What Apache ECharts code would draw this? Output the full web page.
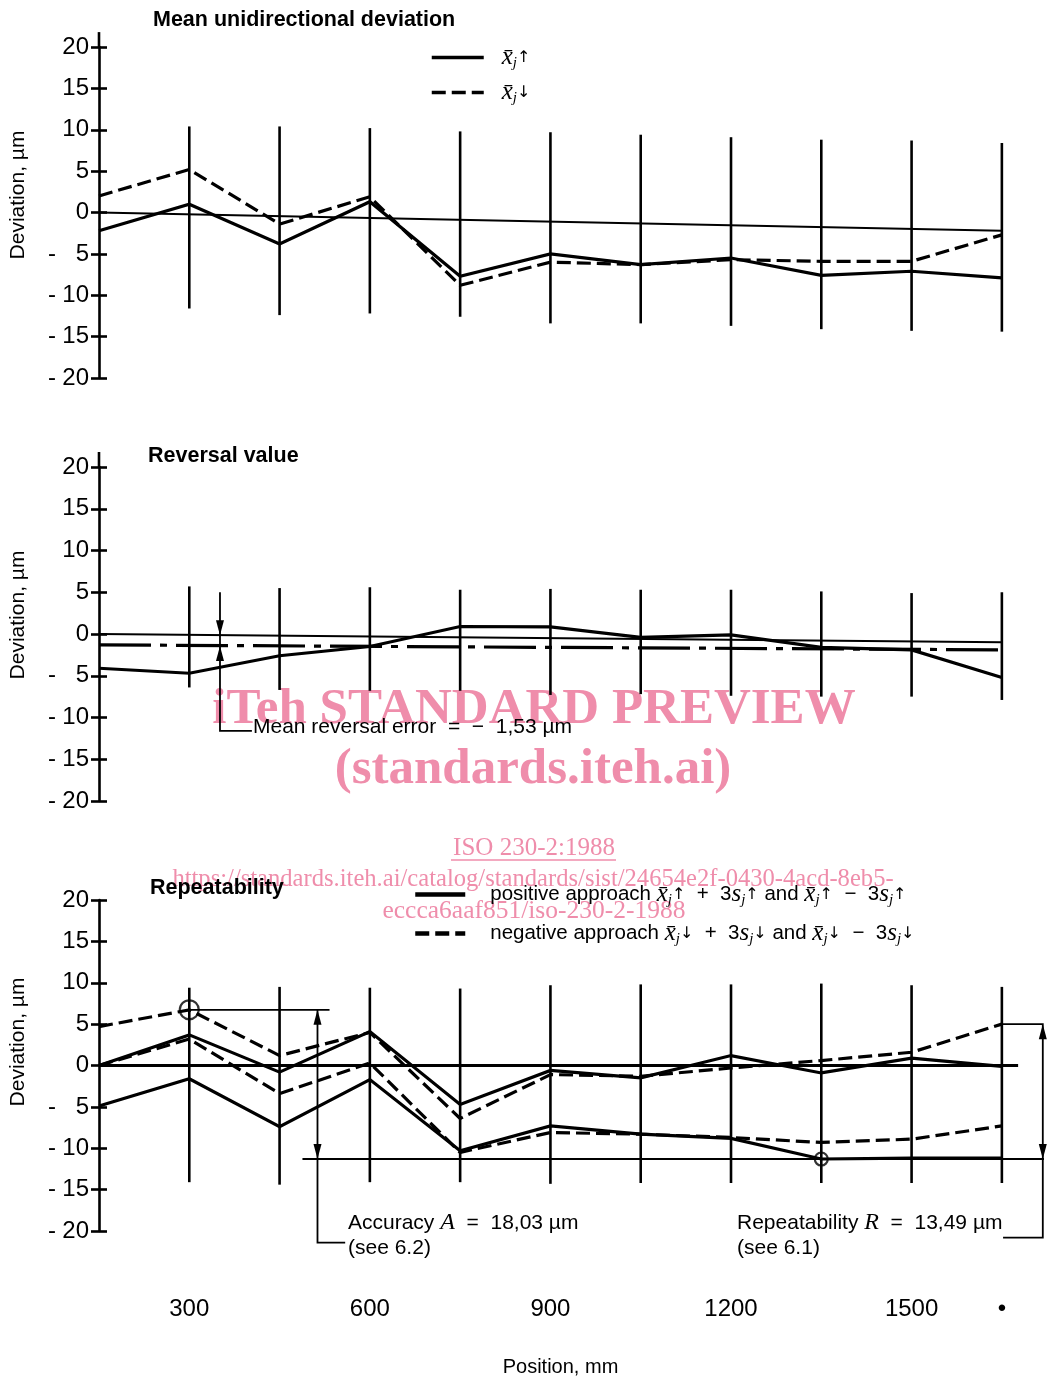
<!DOCTYPE html>
<html>
<head>
<meta charset="utf-8">
<script src="https://cdn.jsdelivr.net/npm/echarts@6/dist/echarts.min.js"></script>
<style>
  html, body { margin: 0; padding: 0; background: #fff; }
  #chart { width: 1047px; height: 1380px; }
</style>
</head>
<body>
<div id="chart"></div>
<script>
// measurement positions, mm
const positions = [150, 300, 450, 600, 750, 900, 1050, 1200, 1350, 1500, 1650];
const barPositions = [300, 450, 600, 750, 900, 1050, 1200, 1350, 1500, 1650];
const xLabelPositions = [300, 600, 900, 1200, 1500];

// panel 1 - mean unidirectional deviation
const meanUp = [-2.2, 1.0, -3.8, 1.3, -7.7, -5.0, -6.3, -5.5, -7.6, -7.1, -7.9];
const meanDown = [2.0, 5.2, -1.4, 1.9, -8.8, -6.0, -6.3, -5.7, -5.9, -5.9, -2.7];
const meanRefEnds = [0, -2.2];
const meanBarTop = [10.4, 10.4, 10.2, 9.8, 9.7, 9.4, 9.1, 8.8, 8.7, 8.4];
const meanBarBottom = [-11.6, -12.4, -12.2, -12.6, -13.4, -13.4, -13.7, -14.1, -14.3, -14.4];

// panel 2 - reversal value
const reversal = [-4.1, -4.7, -2.6, -1.5, 0.9, 0.85, -0.4, -0.1, -1.6, -1.9, -5.2];
const reversalMeanEnds = [-1.3, -1.9];
const reversalRefEnds = [0, -1.0];
const revBarTop = [5.7, 5.5, 5.6, 5.3, 5.4, 5.3, 5.3, 5.1, 4.9, 5.0];
const revBarBottom = [-6.4, -6.7, -6.8, -6.8, -7.3, -7.2, -7.4, -7.5, -7.5, -7.9];

// panel 3 - repeatability
const posUpper = [0, 3.7, -0.8, 4.1, -4.7, -0.6, -1.5, 1.2, -0.9, 0.9, -0.1];
const posLower = [-4.9, -1.6, -7.4, -1.7, -10.3, -7.3, -8.3, -8.8, -11.3, -11.2, -11.2];
const negUpper = [4.7, 6.73, 1.2, 4.0, -6.4, -1.1, -1.3, -0.3, 0.6, 1.6, 5.0];
const negLower = [0, 3.2, -3.4, 0.3, -10.5, -8.1, -8.3, -8.7, -9.3, -8.9, -7.3];
const repBarTop = [9.4, 9.5, 9.4, 9.3, 9.7, 9.8, 9.8, 9.9, 9.7, 9.5];
const repBarBottom = [-14.1, -14.4, -14.1, -14.1, -14.3, -14.2, -14.2, -14.2, -14.2, -14.2];
const maxDev = 6.73;   // A = 6,73 - (-11,30) = 18,03
const minDev = -11.3;

// annotation geometry (data units)
const axisStubs = [[[150, 20], [150, 21.8]]];
const revLeader = [[351, 5.0], [351, -11.6], [404, -11.6]];
const revArrows = [[351, -0.15, -1], [351, -1.45, 1]];
const repLines = [
  [[150, 0], [1677, 0]],
];
const repThinLines = [
  [[300, maxDev], [533, maxDev]],
  [[488, minDev], [1720, minDev]],
  [[513, maxDev], [513, -21.4], [559, -21.4]],
  [[1650, 5.0], [1718, 5.0], [1718, -20.8], [1652, -20.8]],
];
const repArrows = [[513, maxDev, 1], [513, minDev, -1], [1718, 5.0, 1], [1718, minDev, -1]];
const repCircles = [[300, maxDev, 19], [1350, minDev, 13]];

const chart = echarts.init(document.getElementById('chart'));

const SANS = "'Liberation Sans', Arial, sans-serif";
const SERIF = "'Liberation Serif', 'Times New Roman', serif";
const PINK = '#ef8dab';

function lineSeries(name, g, values, type, width) {
  return {
    name, type: 'line', xAxisIndex: g, yAxisIndex: g * 2,
    data: positions.map((p, i) => [p, values[i]]),
    symbol: 'none', silent: true, z: 4,
    lineStyle: { color: '#000', width: width || 3, type: type || 'solid', cap: 'butt', join: 'miter' },
    itemStyle: { color: '#000' }
  };
}

function endsSeries(g, ends, type, width) {
  return {
    type: 'line', xAxisIndex: g, yAxisIndex: g * 2, silent: true, symbol: 'none', z: 3,
    data: [[positions[0], ends[0]], [positions[positions.length - 1], ends[1]]],
    lineStyle: { color: '#000', width: width, type: type || 'solid' }
  };
}

function barsSeries(g, top, bottom) {
  return {
    type: 'custom', xAxisIndex: g, yAxisIndex: g * 2, silent: true, z: 3,
    data: barPositions.map((p, i) => [p, top[i], bottom[i]]),
    renderItem: (params, api) => {
      const a = api.coord([api.value(0), api.value(1)]);
      const b = api.coord([api.value(0), api.value(2)]);
      return { type: 'line', shape: { x1: a[0], y1: a[1], x2: b[0], y2: b[1] },
        style: { stroke: '#000', lineWidth: 2.6 } };
    }
  };
}

function polySeries(g, lines, width) {
  return {
    type: 'custom', xAxisIndex: g, yAxisIndex: g * 2, silent: true, z: 3, clip: false,
    data: lines.map(l => l[0]),
    renderItem: (params, api) => {
      const pts = lines[params.dataIndex].map(p => api.coord(p));
      return { type: 'polyline', shape: { points: pts },
        style: { stroke: '#000', lineWidth: width, fill: null } };
    }
  };
}

function arrowSeries(g, arrows) {
  return {
    type: 'custom', xAxisIndex: g, yAxisIndex: g * 2, silent: true, z: 5, clip: false,
    data: arrows,
    renderItem: (params, api) => {
      const t = api.coord([api.value(0), api.value(1)]);
      const d = api.value(2);   // 1 points up, -1 points down
      const h = 15 * d;
      return { type: 'polygon', shape: { points: [[t[0], t[1]], [t[0] - 4, t[1] + h], [t[0] + 4, t[1] + h]] },
        style: { fill: '#000' } };
    }
  };
}

const grids = [
  { left: 99, width: 945, top: 47, height: 331 },
  { left: 99, width: 945, top: 467, height: 334 },
  { left: 99, width: 945, top: 900, height: 331 }
];

const yLabel = {
  fontFamily: SANS, fontSize: 24, color: '#000', margin: 10,
  formatter: v => v < 0 ? '{m|-}{n|' + (-v) + '}' : '{n|' + v + '}',
  rich: {
    n: { fontFamily: SANS, fontSize: 24, width: 27, align: 'right', color: '#000' },
    m: { fontFamily: SANS, fontSize: 24, width: 14, align: 'left', color: '#000' }
  }
};

const yAxes = [];
grids.forEach((g, i) => {
  yAxes.push({
    type: 'value', gridIndex: i, min: -20, max: 20, interval: 5,
    axisLine: { show: true, lineStyle: { color: '#000', width: 2.6 } },
    axisTick: { show: true, length: 8, lineStyle: { color: '#000', width: 2.6 } },
    axisLabel: yLabel, splitLine: { show: false }
  });
  yAxes.push({
    type: 'value', gridIndex: i, min: -20, max: 20, interval: 5, position: 'left',
    axisLine: { show: false },
    axisTick: { show: true, inside: true, length: 8, lineStyle: { color: '#000', width: 2.6 } },
    axisLabel: { show: false }, splitLine: { show: false }
  });
});

const xAxes = grids.map((g, i) => ({
  type: 'value', gridIndex: i, min: 150, max: 1720, interval: 150,
  show: i === 2,
  axisLine: { show: false }, axisTick: { show: false }, splitLine: { show: false },
  axisLabel: {
    margin: 66, fontFamily: SANS, fontSize: 24, color: '#000',
    formatter: v => xLabelPositions.indexOf(v) >= 0 ? String(v) : (v === 1650 ? '•' : '')
  },
  name: 'Position, mm', nameLocation: 'middle', nameGap: 126,
  nameTextStyle: { fontFamily: SANS, fontSize: 20, color: '#000', padding: [0, 22, 0, 0] }
}));

const mathRich = {
  t: { fontFamily: SANS, fontSize: 20.5, color: '#000' },
  x: { fontFamily: SERIF, fontStyle: 'italic', fontSize: 25, color: '#000' },
  s: { fontFamily: SERIF, fontStyle: 'italic', fontSize: 25, color: '#000' },
  j: { fontFamily: SERIF, fontStyle: 'italic', fontSize: 15, color: '#000', padding: [12, 0, 0, 0] },
  a: { fontFamily: "'DejaVu Sans', sans-serif", fontSize: 16, color: '#000' }
};
const xbar = (arrow) => '{x|x\u0304}{j|j}{a|' + arrow + '}';
const sj = (arrow) => '{s|s}{j|j}{a|' + arrow + '}';

const legendNames = {
  xup: xbar('↑'),
  xdown: xbar('↓'),
  positive: '{t|positive approach }' + xbar('↑') + '{t|  +  3}' + sj('↑') + '{t| and }' + xbar('↑') + '{t|  −  3}' + sj('↑'),
  negative: '{t|negative approach }' + xbar('↓') + '{t|  +  3}' + sj('↓') + '{t| and }' + xbar('↓') + '{t|  −  3}' + sj('↓')
};

function legend(names, left, top, width, gap, textPad, lineWidth) {
  return {
    data: names, left, top, orient: 'vertical', selectedMode: false, padding: 0,
    itemWidth: width, itemHeight: 12, itemGap: gap,
    itemStyle: { opacity: 0 },
    lineStyle: { width: lineWidth },
    formatter: n => legendNames[n],
    textStyle: { rich: mathRich, padding: [0, 0, 0, textPad] }
  };
}

function text(str, x, y, opts) {
  return Object.assign({
    type: 'text', x, y, z: 20,
    style: Object.assign({ text: str, fill: '#000', font: '21px ' + SANS, textVerticalAlign: 'middle' }, (opts && opts.style) || {})
  }, opts && opts.rotation !== undefined ? { rotation: opts.rotation } : {});
}

const mathText = { t: { font: '21px ' + SANS, fill: '#000' }, i: { font: 'italic 24px ' + SERIF, fill: '#000' } };

const graphic = [
  // watermark
  { type: 'text', x: 534, y: 710, z: 0, style: { text: 'iTeh STANDARD PREVIEW', fill: PINK, font: 'bold 51px ' + SERIF, textAlign: 'center', textVerticalAlign: 'middle' } },
  { type: 'text', x: 533, y: 770, z: 0, style: { text: '(standards.iteh.ai)', fill: PINK, font: 'bold 51px ' + SERIF, textAlign: 'center', textVerticalAlign: 'middle' } },
  { type: 'text', x: 534, y: 848, z: 0, style: { text: 'ISO 230-2:1988', fill: PINK, font: '25px ' + SERIF, textAlign: 'center', textVerticalAlign: 'middle' } },
  { type: 'line', z: 0, shape: { x1: 451, y1: 860, x2: 616, y2: 860 }, style: { stroke: PINK, lineWidth: 1.5 } },
  { type: 'text', x: 533, y: 880, z: 0, style: { text: 'https://standards.iteh.ai/catalog/standards/sist/24654e2f-0430-4acd-8eb5-', fill: PINK, font: '24.6px ' + SERIF, textAlign: 'center', textVerticalAlign: 'middle' } },
  { type: 'text', x: 534, y: 911, z: 0, style: { text: 'eccca6aaf851/iso-230-2-1988', fill: PINK, font: '25.5px ' + SERIF, textAlign: 'center', textVerticalAlign: 'middle' } },
  // panel titles
  text('Mean unidirectional deviation', 153, 20, { style: { font: 'bold 21.5px ' + SANS } }),
  text('Reversal value', 148, 456, { style: { font: 'bold 21.5px ' + SANS } }),
  text('Repeatability', 150, 888, { style: { font: 'bold 21.5px ' + SANS } }),
  // axis names
  text('Deviation, µm', 18, 195, { rotation: Math.PI / 2, style: { textAlign: 'center' } }),
  text('Deviation, µm', 18, 615, { rotation: Math.PI / 2, style: { textAlign: 'center' } }),
  text('Deviation, µm', 18, 1042, { rotation: Math.PI / 2, style: { textAlign: 'center' } }),
  // annotations
  text('Mean reversal error  =  −  1,53 µm', 253, 727),
  { type: 'text', x: 348, y: 1223, z: 20, style: { text: '{t|Accuracy }{i|A}{t|  =  18,03 µm}', textVerticalAlign: 'middle', rich: mathText } },
  text('(see 6.2)', 348, 1248),
  { type: 'text', x: 737, y: 1223, z: 20, style: { text: '{t|Repeatability }{i|R}{t|  =  13,49 µm}', textVerticalAlign: 'middle', rich: mathText } },
  text('(see 6.1)', 737, 1248)
];

const option = {
  animation: false,
  backgroundColor: '#fff',
  grid: grids,
  xAxis: xAxes,
  yAxis: yAxes,
  legend: [
    legend(['xup', 'xdown'], 430, 45, 52, 9, 13, 3.5),
    legend(['positive', 'negative'], 413, 882, 50, 13, 20, 4.5)
  ],
  graphic,
  series: [
    // panel 1
    barsSeries(0, meanBarTop, meanBarBottom),
    polySeries(0, axisStubs, 2.6),
    endsSeries(0, meanRefEnds, 'solid', 2),
    lineSeries('xup', 0, meanUp, 'solid', 3.2),
    lineSeries('xdown', 0, meanDown, [14, 6], 3.2),
    // panel 2
    barsSeries(1, revBarTop, revBarBottom),
    polySeries(1, axisStubs, 2.6),
    endsSeries(1, reversalRefEnds, 'solid', 2),
    endsSeries(1, reversalMeanEnds, [52, 9, 7, 9], 3.2),
    lineSeries('reversal', 1, reversal, 'solid', 3.2),
    polySeries(1, [revLeader], 1.8),
    arrowSeries(1, revArrows),
    // panel 3
    barsSeries(2, repBarTop, repBarBottom),
    polySeries(2, repLines, 2.8),
    polySeries(2, repThinLines, 1.8),
    arrowSeries(2, repArrows),
    lineSeries('positive', 2, posUpper, 'solid', 3.2),
    lineSeries('positive', 2, posLower, 'solid', 3.2),
    lineSeries('negative', 2, negUpper, [14, 6], 3.2),
    lineSeries('negative', 2, negLower, [14, 6], 3.2),
    {
      type: 'scatter', xAxisIndex: 2, yAxisIndex: 4, silent: true, z: 6,
      data: repCircles.map(c => [c[0], c[1]]),
      symbol: 'circle', symbolSize: (v, p) => repCircles[p.dataIndex][2],
      itemStyle: { color: 'rgba(0,0,0,0)', borderColor: '#000', borderWidth: 2.2 }
    }
  ]
};

chart.setOption(option);
</script>
</body>
</html>
